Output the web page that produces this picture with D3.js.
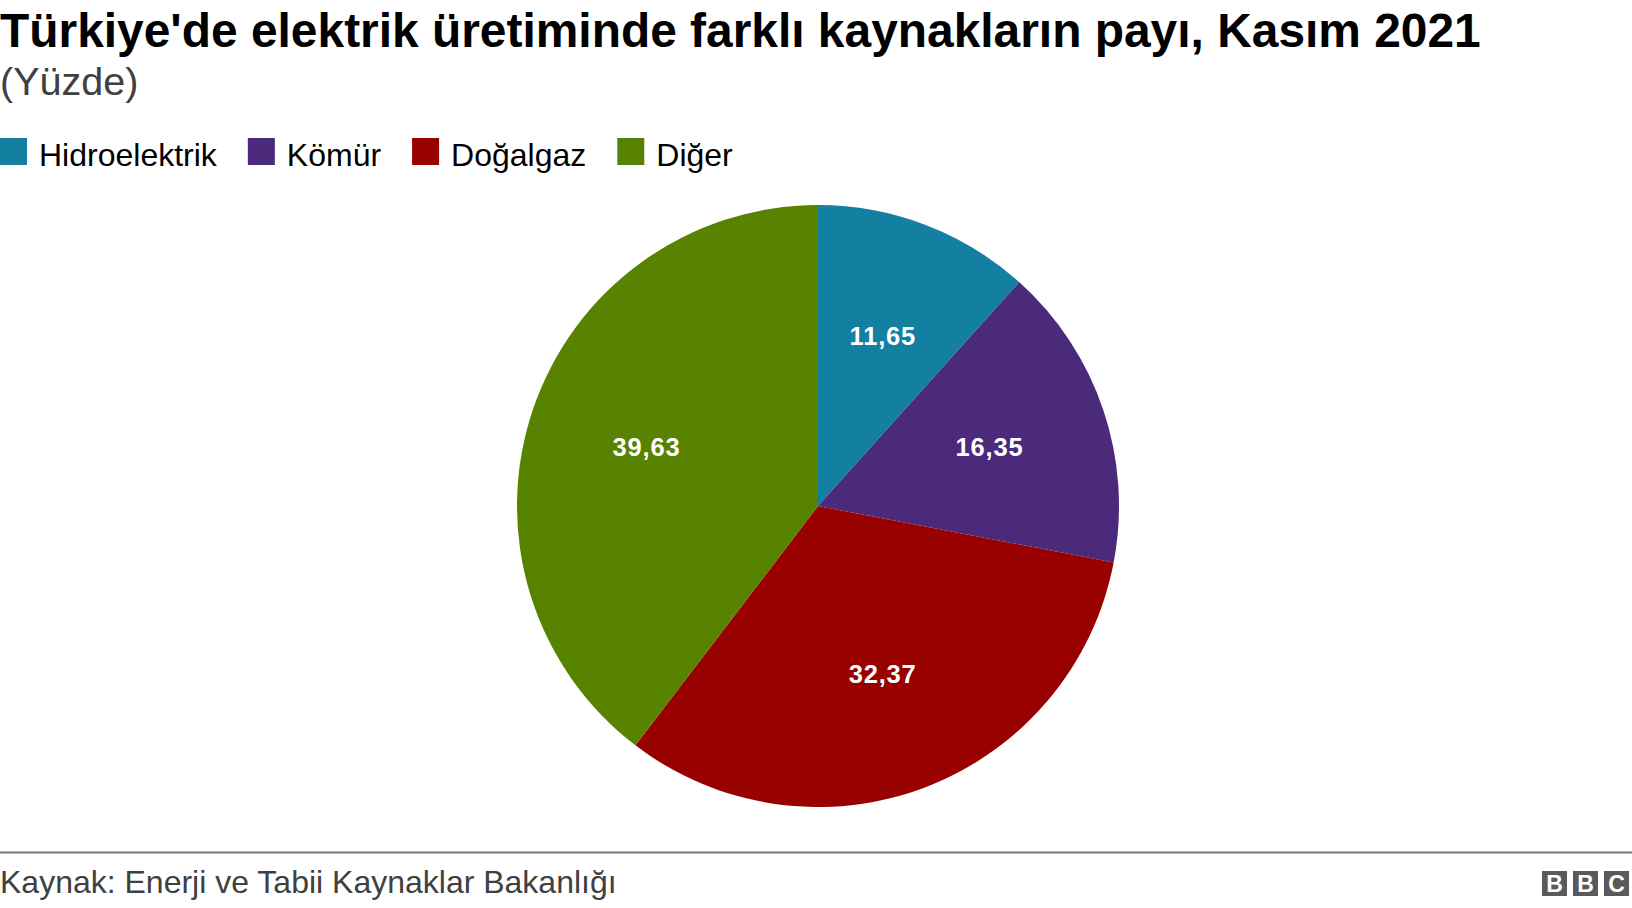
<!DOCTYPE html>
<html>
<head>
<meta charset="utf-8">
<script src="https://cdn.jsdelivr.net/npm/d3@7"></script>
<style>
  html, body { margin: 0; padding: 0; background: #fff; }
  svg { display: block; }
</style>
</head>
<body>
<svg id="chart" width="1632" height="908"></svg>
<script>
const categories = ["Hidroelektrik", "Kömür", "Doğalgaz", "Diğer"];
const values = [11.65, 16.35, 32.37, 39.63];
const colors = ["#1380A1", "#4C2A7B", "#990000", "#588300"];
const titleText = "Türkiye'de elektrik üretiminde farklı kaynakların payı, Kasım 2021";
const subtitleText = "(Yüzde)";
const sourceText = "Kaynak: Enerji ve Tabii Kaynaklar Bakanlığı";

const svg = d3.select("#chart");
const font = "'Liberation Sans', Arial, Helvetica, sans-serif";

svg.append("text").attr("x", 0).attr("y", 46.5)
  .attr("font-family", font).attr("font-weight", "bold").attr("font-size", 47.9)
  .attr("fill", "#000").text(titleText);

svg.append("text").attr("x", 0).attr("y", 95)
  .attr("font-family", font).attr("font-size", 39.5)
  .attr("fill", "#404040").text(subtitleText);

// Legend
const color = d3.scaleOrdinal().domain(categories).range(colors);
let lx = 0;
const legend = svg.append("g");
categories.forEach(c => {
  legend.append("rect").attr("x", lx).attr("y", 138).attr("width", 27).attr("height", 27).attr("fill", color(c));
  const t = legend.append("text").attr("x", lx + 39).attr("y", 166)
    .attr("font-family", font).attr("font-size", 32).attr("fill", "#000").text(c);
  lx += 39 + t.node().getComputedTextLength() + 31;
});

// Pie
const cx = 818, cy = 506, r = 301;
const pie = d3.pie().sort(null).value(d => d.v);
const data = pie(categories.map((c, i) => ({ c, v: values[i] })));
const arc = d3.arc().innerRadius(0).outerRadius(r);
const labelArc = d3.arc().innerRadius(181).outerRadius(181);
const g = svg.append("g").attr("transform", `translate(${cx},${cy})`);
g.selectAll("path").data(data).join("path")
  .attr("d", arc).attr("fill", d => color(d.data.c));
const fmt = v => d3.format(".2f")(v).replace(".", ",");
g.selectAll("text").data(data).join("text")
  .attr("transform", d => `translate(${labelArc.centroid(d)})`)
  .attr("text-anchor", "middle").attr("dy", "0.3em")
  .attr("font-family", font).attr("font-weight", "bold").attr("font-size", 25.5)
  .attr("letter-spacing", 0.8)
  .attr("fill", "#fff").text(d => fmt(d.data.v));

// Footer
svg.append("line").attr("x1", 0).attr("x2", 1632).attr("y1", 852.5).attr("y2", 852.5)
  .attr("stroke", "#777").attr("stroke-width", 2);
svg.append("text").attr("x", 0).attr("y", 893)
  .attr("font-family", font).attr("font-size", 32).attr("fill", "#404040").text(sourceText);

const logo = svg.append("g");
["B", "B", "C"].forEach((ch, i) => {
  const x = 1542 + i * 31;
  logo.append("rect").attr("x", x).attr("y", 871).attr("width", 25).attr("height", 25).attr("fill", "#5a5a5a");
  logo.append("text").attr("x", x + 12.5).attr("y", 892).attr("text-anchor", "middle")
    .attr("font-family", font).attr("font-weight", "bold").attr("font-size", 23)
    .attr("fill", "#fff").text(ch);
});
</script>
</body>
</html>
